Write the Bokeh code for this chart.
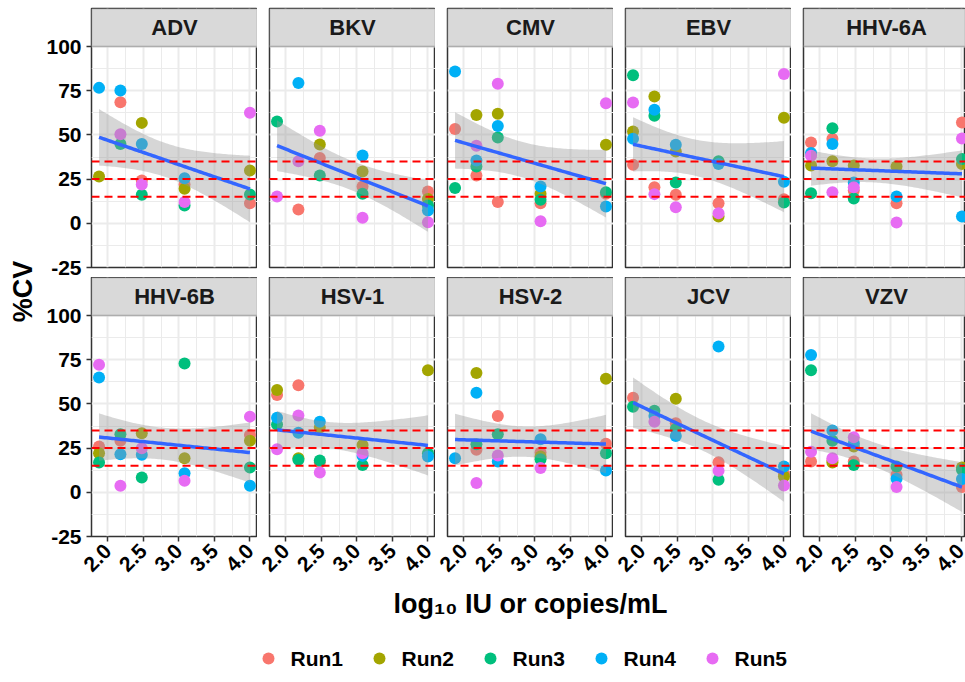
import numpy as np
from math import gamma, sqrt, pi
from bokeh.plotting import figure
from bokeh.models import (Range1d, FixedTicker, Span, Label, BoxAnnotation,
                          ColumnDataSource)
from bokeh.layouts import row, column
from bokeh.embed import file_html
from bokeh.resources import INLINE
from bokeh.core.properties import value

# ---------------- data ----------------
conc_log10 = [1.875, 2.176, 2.477, 3.079, 4.0]
x_ticks = [2.0, 2.5, 3.0, 3.5, 4.0]
x_tick_labels = ["2.0", "2.5", "3.0", "3.5", "4.0"]
y_ticks = [-25, 0, 25, 50, 75, 100]
y_tick_labels = ["-25", "0", "25", "50", "75", "100"]
cv_limits = [15, 25, 35]
runs = ["Run1", "Run2", "Run3", "Run4", "Run5"]
run_colors = ["#F8766D", "#A3A500", "#00BF7D", "#00B0F6", "#E76BF3"]
viruses = ["ADV", "BKV", "CMV", "EBV", "HHV-6A",
           "HHV-6B", "HSV-1", "HSV-2", "JCV", "VZV"]

N = None
# rows = Run1..Run5, columns = conc_log10
cv_ADV = [[N, 68.5, 24.2, 22.0, 11.4],
          [26.5, N, 56.8, 19.5, 29.9],
          [N, 44.8, 16.1, 10.1, 16.3],
          [76.6, 75.1, 44.8, 25.5, N],
          [N, 50.4, 22.0, 12.1, 62.5]]
cv_BKV = [[N, 7.8, 37.0, 20.8, 18.0],
          [N, N, 44.6, 29.3, 13.8],
          [57.6, N, 27.0, 16.7, 10.1],
          [N, 79.3, N, 38.3, 7.2],
          [15.2, 35.1, 52.3, 3.1, 0.6]]
cv_CMV = [[53.4, 27.0, 12.1, 11.4, 16.7],
          [N, 61.2, 61.9, 16.7, 44.4],
          [19.9, 32.1, 48.5, 13.3, 17.6],
          [85.9, 35.5, 55.1, 20.8, 9.5],
          [N, 43.8, 78.9, 1.2, 67.9]]
cv_EBV = [[33.1, 20.4, 16.1, 11.4, 13.6],
          [51.9, 71.7, 40.6, 3.8, 59.7],
          [83.8, 60.8, 23.1, 35.1, 11.8],
          [47.8, 64.2, 44.4, 33.6, 23.5],
          [68.3, 16.5, 9.1, 5.7, 84.5]]
cv_HHV6A = [[45.7, 47.8, 18.6, 11.4, 57.0],
            [32.7, 35.1, 32.7, 32.1, 33.6],
            [17.0, 53.8, 14.0, N, 36.3],
            [39.7, 44.8, 23.1, 15.2, 3.8],
            [38.2, 17.6, 20.4, 0.5, 48.0]]
cv_HHV6B = [[25.9, 29.1, N, N, 32.4],
            [22.1, N, 33.4, 19.3, 29.2],
            [16.9, 32.8, 8.4, 72.8, 14.0],
            [64.9, 21.5, 21.2, 10.8, 3.7],
            [72.2, 3.7, 24.9, 6.5, 42.8]]
cv_HSV1 = [[55.0, 60.6, 16.9, N, N],
           [57.8, 19.3, 36.6, 26.8, 69.0],
           [38.4, 18.4, 18.0, 15.5, 22.1],
           [42.2, 33.7, 39.9, 20.6, 20.2],
           [24.4, 43.5, 11.2, 22.1, N]]
cv_HSV2 = [[N, 24.0, 43.1, 22.5, 27.4],
           [N, 67.5, N, 20.2, 64.2],
           [N, 27.2, 32.8, 18.7, 22.1],
           [19.3, 56.3, 17.4, 30.0, 12.3],
           [N, 5.2, 20.8, 13.7, N]]
cv_JCV = [[53.5, N, 39.0, 17.0, 10.5],
          [N, N, 52.9, N, 9.0],
          [48.4, 46.1, 35.8, 7.1, N],
          [N, 43.1, 31.9, 82.5, 14.6],
          [N, 39.9, N, 12.2, 3.9]]
cv_VZV = [[17.4, 18.0, 17.4, 9.9, 3.0],
          [N, 16.9, 25.9, N, 14.0],
          [69.0, 29.1, 15.4, 14.6, 12.7],
          [77.7, 34.9, 27.7, 7.7, 7.5],
          [23.0, 19.3, 31.1, 3.0, N]]

cv_by_virus = {"ADV": cv_ADV, "BKV": cv_BKV, "CMV": cv_CMV, "EBV": cv_EBV,
               "HHV-6A": cv_HHV6A, "HHV-6B": cv_HHV6B, "HSV-1": cv_HSV1,
               "HSV-2": cv_HSV2, "JCV": cv_JCV, "VZV": cv_VZV}

# ---------------- layout / styling ----------------
FONT = "Liberation Sans"
TOTAL_W, TOTAL_H = 965, 682
YLAB_W = 38
PW, PH, GAP, LEFT, STRIP = 166, 221, 12, 53, 38
TOP = 8
ROW_GAP = 10
BOTTOM = 48
panel_w = [PW, PW, PW, PW,
           TOTAL_W - YLAB_W - (LEFT + PW) - 3 * (GAP + PW) - GAP]

xmin, xmax = min(conc_log10), max(conc_log10)
xspan = xmax - xmin
X0, X1 = xmin - 0.05 * xspan, xmax + 0.05 * xspan
YLO, YHI = y_ticks[0], y_ticks[-1]
Y_TOP = YHI + (YHI - YLO) * STRIP / PH        # strip sits above the data area
x_minor = [(a + b) / 2 for a, b in zip(x_ticks[:-1], x_ticks[1:])]
y_minor = [(a + b) / 2 for a, b in zip(y_ticks[:-1], y_ticks[1:])]


def t975(df):
    c = gamma((df + 1) / 2) / (sqrt(df * pi) * gamma(df / 2))
    xs = np.linspace(0, 12, 240001)
    pdf = c * (1 + xs ** 2 / df) ** (-(df + 1) / 2)
    cdf = 0.5 + np.concatenate([[0], np.cumsum((pdf[1:] + pdf[:-1]) / 2 * (xs[1] - xs[0]))])
    return xs[np.searchsorted(cdf, 0.975)]


def style_axis(ax):
    ax.axis_line_color = None
    ax.major_tick_line_color = "#333333"
    ax.major_tick_line_width = 1.5
    ax.major_tick_out = 5
    ax.major_tick_in = 0
    ax.minor_tick_line_color = None
    ax.major_label_text_font = FONT
    ax.major_label_text_font_style = "bold"
    ax.major_label_text_font_size = "21px"
    ax.major_label_text_color = "black"
    ax.major_label_standoff = 5


def panel(name, r, c):
    fw = panel_w[c]
    p = figure(frame_width=fw, frame_height=STRIP + PH,
               x_range=Range1d(X0, X0 + (X1 - X0) * fw / PW),
               y_range=Range1d(YLO, Y_TOP),
               x_axis_location="below" if r == 1 else None,
               y_axis_location="left" if c == 0 else None,
               min_border_left=LEFT if c == 0 else GAP,
               min_border_right=0,
               min_border_top=TOP if r == 0 else 0,
               min_border_bottom=BOTTOM if r == 1 else ROW_GAP,
               background_fill_color="white", border_fill_color="white",
               outline_line_color="#333333", outline_line_width=1.5,
               output_backend="svg", toolbar_location=None)
    p.xgrid.ticker = FixedTicker(ticks=x_ticks, minor_ticks=x_minor)
    p.ygrid.ticker = FixedTicker(ticks=y_ticks, minor_ticks=y_minor)
    for g in (p.xgrid[0], p.ygrid[0]):
        g.grid_line_color = "#ebebeb"
        g.grid_line_width = 2
        g.minor_grid_line_color = "#ebebeb"
        g.minor_grid_line_width = 1
    if r == 1:
        ax = p.xaxis[0]
        ax.ticker = FixedTicker(ticks=x_ticks)
        ax.major_label_overrides = dict(zip(x_ticks, x_tick_labels))
        style_axis(ax)
        ax.major_label_orientation = pi / 4
        ax.major_label_standoff = 6
    if c == 0:
        ay = p.yaxis[0]
        ay.ticker = FixedTicker(ticks=y_ticks)
        ay.major_label_overrides = dict(zip(y_ticks, y_tick_labels))
        style_axis(ay)

    data = cv_by_virus[name]
    allx, ally = [], []
    for run, col, vals in zip(runs, run_colors, data):
        xs = [x for x, v in zip(conc_log10, vals) if v is not None]
        ys = [v for v in vals if v is not None]
        allx += xs
        ally += ys
        src = ColumnDataSource(dict(x=xs, y=ys))
        p.scatter("x", "y", source=src, size=12, fill_color=col, line_color=None)

    # linear fit with 95% confidence band (as geom_smooth(method = "lm"))
    ax_ = np.array(allx)
    ay_ = np.array(ally)
    n = len(ax_)
    slope, icpt = np.polyfit(ax_, ay_, 1)
    resid = ay_ - (slope * ax_ + icpt)
    s_err = sqrt(np.sum(resid ** 2) / (n - 2))
    xm = ax_.mean()
    sxx = np.sum((ax_ - xm) ** 2)
    xg = np.linspace(ax_.min(), ax_.max(), 80)
    yg = slope * xg + icpt
    half = t975(n - 2) * s_err * np.sqrt(1 / n + (xg - xm) ** 2 / sxx)
    lo = np.maximum(yg - half, YLO)
    hi = np.minimum(yg + half, YHI)
    p.varea(x=xg, y1=lo, y2=hi, fill_color="#999999", fill_alpha=0.4)
    for v in cv_limits:
        p.add_layout(Span(location=v, dimension="width", line_color="#FF0000",
                          line_width=2, line_dash="8 5"))
    p.line(xg, yg, line_color="#3366FF", line_width=3.5)

    # facet strip
    p.add_layout(BoxAnnotation(bottom=YHI, fill_color="#d9d9d9", fill_alpha=1.0,
                               line_color="#333333", line_width=1.5))
    p.add_layout(Label(x=(X0 + X1) / 2, y=(YHI + Y_TOP) / 2, text=name,
                       text_align="center", text_baseline="middle",
                       text_font=FONT, text_font_style="bold",
                       text_font_size="22px", text_color="#1a1a1a"))
    return p


rows = []
for r in range(2):
    rows.append(row([panel(viruses[r * 5 + c], r, c) for c in range(5)]))
grid = column(rows)

GRID_H = TOP + 2 * (STRIP + PH) + ROW_GAP + BOTTOM

# y-axis title
ylab = figure(frame_width=YLAB_W, frame_height=GRID_H, x_range=Range1d(0, YLAB_W),
              y_range=Range1d(0, GRID_H), x_axis_location=None, y_axis_location=None,
              min_border=0, outline_line_color=None, output_backend="svg",
              toolbar_location=None)
ylab.grid.visible = False
ylab.add_layout(Label(x=22, y=GRID_H - 291, text="%CV",
                      angle=pi / 2, text_align="center", text_baseline="middle",
                      text_font=FONT, text_font_style="bold", text_font_size="27px",
                      text_color="black"))

# x-axis title
XL_H = 41
xlab = figure(frame_width=TOTAL_W, frame_height=XL_H, x_range=Range1d(0, TOTAL_W),
              y_range=Range1d(0, XL_H), x_axis_location=None, y_axis_location=None,
              min_border=0, outline_line_color=None, output_backend="svg",
              toolbar_location=None)
xlab.grid.visible = False
xlab.add_layout(Label(x=YLAB_W + LEFT + (5 * PW + 4 * GAP) / 2, y=22,
                      text="log\u2081\u2080 IU or copies/mL",
                      text_align="center", text_baseline="middle",
                      text_font=FONT, text_font_style="bold", text_font_size="27px",
                      text_color="black"))

# legend (keys placed by run index)
LG_H = TOTAL_H - GRID_H - XL_H
KEY0, KEY_STEP = 268, 111
leg = figure(frame_width=TOTAL_W, frame_height=LG_H,
             x_range=Range1d(-KEY0 / KEY_STEP, (TOTAL_W - KEY0) / KEY_STEP),
             y_range=Range1d(-24, LG_H - 24), x_axis_location=None,
             y_axis_location=None, min_border=0, outline_line_color=None,
             output_backend="svg", toolbar_location=None)
leg.grid.visible = False
key_src = ColumnDataSource(dict(x=list(range(len(runs))), y=[0] * len(runs),
                                label=runs, color=run_colors))
leg.scatter("x", "y", source=key_src, size=12, fill_color="color", line_color=None)
leg.text("x", "y", text="label", source=key_src, x_offset=22,
         text_align="left", text_baseline="middle", text_font=value(FONT),
         text_font_style="bold", text_font_size="21px", text_color="black")

layout = column(row(ylab, grid), xlab, leg)
open("out.html", "w").write(file_html(layout, INLINE))
